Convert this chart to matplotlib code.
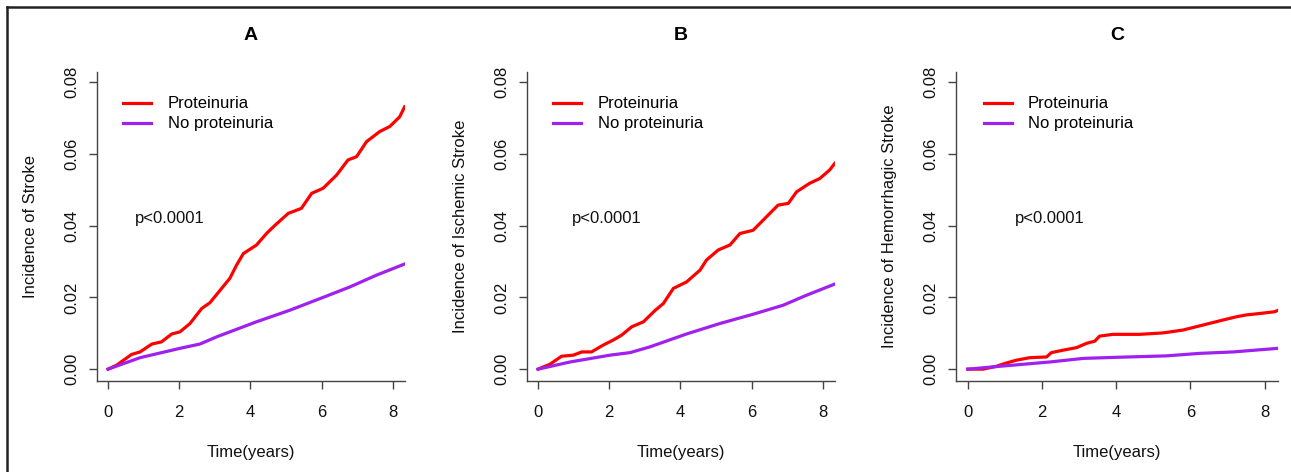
import matplotlib
matplotlib.use("Agg")
import matplotlib.pyplot as plt
from matplotlib.lines import Line2D

plt.rcParams['font.family'] = ['Liberation Sans', 'DejaVu Sans']

# ---- data ----
panel_titles = ["A", "B", "C"]
y_labels = ["Incidence of Stroke", "Incidence of Ischemic Stroke", "Incidence of Hemorrhagic Stroke"]
series_names = ["Proteinuria", "No proteinuria"]
x_ticks = [0, 2, 4, 6, 8]
y_ticks = [0.00, 0.02, 0.04, 0.06, 0.08]
y_tick_labels = ["0.00", "0.02", "0.04", "0.06", "0.08"]
p_text = "p<0.0001"

a_prot_t = [0, 0.24, 0.66, 0.9, 1.23, 1.5, 1.79, 2.02, 2.3, 2.63, 2.86, 3.19, 3.42, 3.61, 3.8,
            4.17, 4.45, 4.69, 5.06, 5.43, 5.72, 6.04, 6.42, 6.74, 6.98, 7.26, 7.63, 7.91, 8.19, 8.33]
a_prot_y = [0, 0.0011, 0.0041, 0.0048, 0.0070, 0.0076, 0.0098, 0.0104, 0.0127, 0.0169, 0.0185,
            0.0225, 0.0253, 0.0290, 0.0322, 0.0346, 0.0378, 0.0401, 0.0434, 0.0448, 0.0490,
            0.0504, 0.0541, 0.0583, 0.0592, 0.0634, 0.0662, 0.0676, 0.0703, 0.0731]
a_none_t = [0, 0.9, 2.02, 2.58, 3.05, 4.17, 5.1, 6.04, 6.79, 7.54, 8.33]
a_none_y = [0, 0.0032, 0.0058, 0.0070, 0.0090, 0.0132, 0.0164, 0.0200, 0.0229, 0.0262, 0.0293]

b_prot_t = [0, 0.34, 0.66, 0.99, 1.23, 1.5, 1.83, 2.11, 2.35, 2.63, 2.96, 3.28, 3.52, 3.8, 4.17,
            4.55, 4.73, 5.06, 5.39, 5.67, 6.04, 6.42, 6.74, 7.03, 7.26, 7.63, 7.91, 8.19, 8.33]
b_prot_y = [0, 0.0014, 0.0036, 0.0039, 0.0048, 0.0048, 0.0067, 0.0081, 0.0095, 0.0118, 0.0132,
            0.0163, 0.0183, 0.0225, 0.0243, 0.0276, 0.0304, 0.0332, 0.0346, 0.0378, 0.0387,
            0.0425, 0.0457, 0.0462, 0.0494, 0.0518, 0.0531, 0.0555, 0.0573]
b_none_t = [0, 0.9, 2.02, 2.58, 3.14, 4.17, 5.1, 6.04, 6.88, 7.54, 8.33]
b_none_y = [0, 0.0020, 0.0039, 0.0046, 0.0062, 0.0098, 0.0127, 0.0153, 0.0178, 0.0206, 0.0237]

c_prot_t = [0, 0.41, 0.77, 1.0, 1.31, 1.67, 2.12, 2.25, 2.57, 2.93, 3.2, 3.42, 3.55, 3.91, 4.63,
            5.26, 5.8, 6.34, 6.88, 7.24, 7.5, 7.86, 8.27, 8.36]
c_prot_y = [0, 0, 0.0008, 0.0016, 0.0025, 0.0032, 0.0034, 0.0046, 0.0053, 0.0060, 0.0072,
            0.0078, 0.0092, 0.0097, 0.0097, 0.0101, 0.0109, 0.0123, 0.0137, 0.0146, 0.0151,
            0.0155, 0.0160, 0.0164]
c_none_t = [0, 0.86, 2.21, 3.11, 4.0, 5.35, 6.25, 7.15, 8.36]
c_none_y = [0, 0.0008, 0.0020, 0.0030, 0.0033, 0.0037, 0.0044, 0.0048, 0.0058]

panels = [
    (a_prot_t, a_prot_y, a_none_t, a_none_y),
    (b_prot_t, b_prot_y, b_none_t, b_none_y),
    (c_prot_t, c_prot_y, c_none_t, c_none_y),
]
colors = ["#FF0000", "#A020F0"]

# ---- layout (pixels) ----
W, H = 1291, 472
fig = plt.figure(figsize=(W / 100, H / 100), dpi=100)
fig.patch.set_facecolor("white")

boxes = [(97, 405), (527, 835), (956, 1278)]
xlims = [(-0.31, 8.34), (-0.31, 8.34), (-0.32, 8.36)]
top, bottom = 72, 381
p_x = [0.76, 0.955, 1.27]

for i, ((l, r), (pt, py, nt, ny)) in enumerate(zip(boxes, panels)):
    ax = fig.add_axes([l / W, 1 - bottom / H, (r - l) / W, (bottom - top) / H])
    ax.plot(pt, py, color=colors[0], lw=2.3, label=series_names[0])
    ax.plot(nt, ny, color=colors[1], lw=2.3, label=series_names[1])
    ax.set_xlim(*xlims[i])
    ax.set_ylim(-0.0033, 0.0828)
    ax.set_xticks(x_ticks)
    ax.set_xticklabels([str(t) for t in x_ticks])
    ax.set_yticks(y_ticks)
    ax.set_yticklabels(y_tick_labels, rotation=90, va="center")
    for s in ["top", "right"]:
        ax.spines[s].set_visible(False)
    for s in ["left", "bottom"]:
        ax.spines[s].set_color("#444444")
        ax.spines[s].set_linewidth(1.0)
    ax.tick_params(axis="both", length=6, width=1.0, color="#444444", labelsize=12,
                   labelcolor="#111111")
    ax.tick_params(axis="x", pad=11)
    ax.tick_params(axis="y", pad=7)
    ax.set_xlabel("Time(years)", fontsize=12, labelpad=18, color="#111111")
    ax.set_ylabel(y_labels[i], fontsize=12, labelpad=19, color="#111111")
    ax.set_title(panel_titles[i], fontsize=14, fontweight="bold", pad=23)
    ax.text(p_x[i], 0.0421, p_text, fontsize=12, va="center", ha="left", color="#111111")
    ax.legend(loc="upper left", bbox_to_anchor=(0.086, 0.921), frameon=False, fontsize=12,
              handlelength=1.68, handletextpad=0.98, labelspacing=0.3, borderaxespad=0,
              borderpad=0)

# figure border (left and top)
fig.add_artist(Line2D([7 / W, 7 / W], [0, 1 - 7 / H], color="#222222", lw=1.8))
fig.add_artist(Line2D([7 / W, 1], [1 - 7 / H, 1 - 7 / H], color="#222222", lw=1.8))

fig.savefig("out.png", dpi=100)
